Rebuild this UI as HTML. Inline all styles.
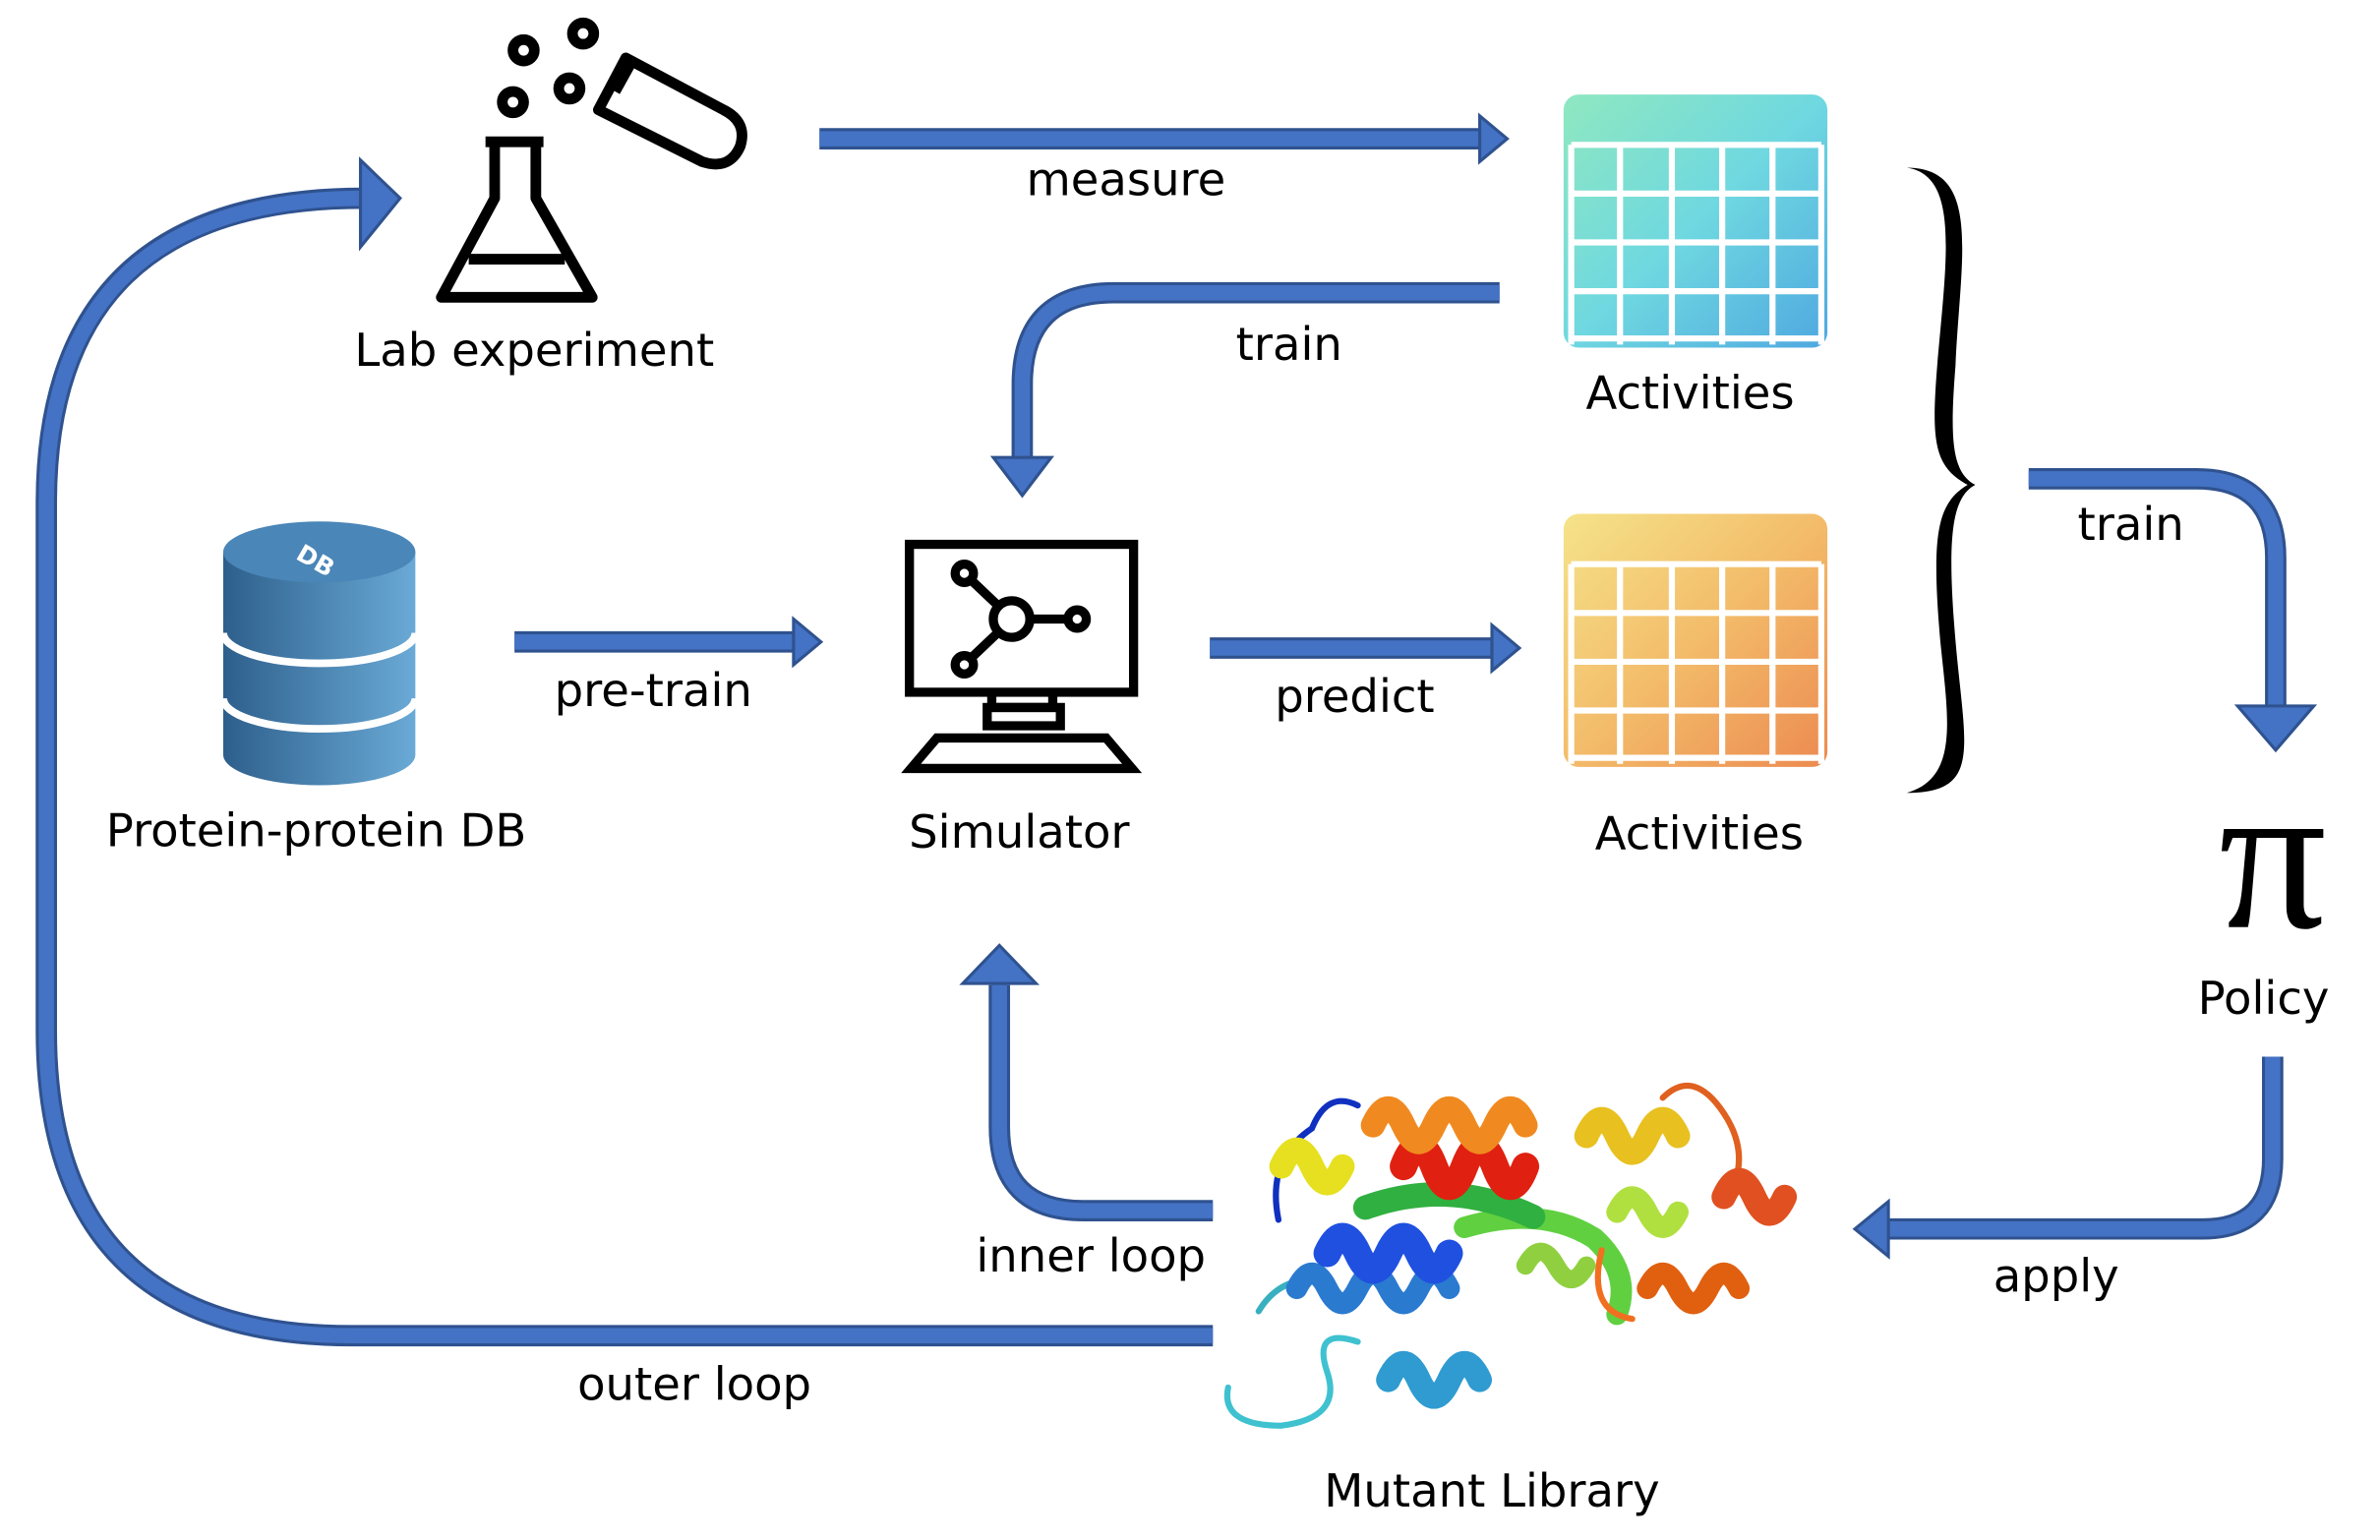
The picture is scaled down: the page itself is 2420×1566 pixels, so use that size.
<!DOCTYPE html>
<html><head><meta charset="utf-8"><style>
html,body{margin:0;padding:0;background:#fff;}
svg{display:block}
text{font-family:"DejaVu Sans","Liberation Sans",sans-serif;fill:#000}
</style></head><body>
<svg width="2420" height="1566" viewBox="0 0 1560 1010" xmlns="http://www.w3.org/2000/svg">
<defs>
<linearGradient id="g1" x1="0" y1="0" x2="1" y2="1"><stop offset="0" stop-color="#8fe8c0"/><stop offset="0.5" stop-color="#6fd8e0"/><stop offset="1" stop-color="#4fa8e0"/></linearGradient>
<linearGradient id="g2" x1="0" y1="0" x2="1" y2="1"><stop offset="0" stop-color="#f5e38a"/><stop offset="0.5" stop-color="#f3bc6a"/><stop offset="1" stop-color="#ec8a50"/></linearGradient>
<linearGradient id="db" x1="0" y1="0" x2="1" y2="0"><stop offset="0" stop-color="#2e5f8c"/><stop offset="1" stop-color="#6aaad6"/></linearGradient>
</defs>
<g fill="none" stroke-linejoin="round">
<g stroke="#2f528f" stroke-width="14">
<path d="M537 91 H972"/>
<path d="M983 192 H730 Q670 192 670 252 V302"/>
<path d="M337 421 H522"/>
<path d="M793 425 H980"/>
<path d="M1330 314 H1440 Q1492 314 1492 366 V466"/>
<path d="M1490 693 V760 Q1490 806 1444 806 H1236"/>
<path d="M795 794 H710 Q655 794 655 739 V646"/>
<path d="M795 876 H230 Q30 876 30 676 V330 Q30 130 238 130"/>
</g>
<g stroke="#4472c4" stroke-width="10">
<path d="M537 91 H972"/>
<path d="M983 192 H730 Q670 192 670 252 V303"/>
<path d="M337 421 H522"/>
<path d="M793 425 H980"/>
<path d="M1330 314 H1440 Q1492 314 1492 366 V467"/>
<path d="M1490 693 V760 Q1490 806 1444 806 H1235"/>
<path d="M795 794 H710 Q655 794 655 739 V645"/>
<path d="M795 876 H230 Q30 876 30 676 V330 Q30 130 239 130"/>
</g>
</g>
<g fill="#4472c4" stroke="#2f528f" stroke-width="2">
<polygon points="970,76 988,91 970,106"/>
<polygon points="651,300 689,300 670,325"/>
<polygon points="520,406 538,421 520,436"/>
<polygon points="978,410 996,425 978,440"/>
<polygon points="1467,463 1517,463 1492,492"/>
<polygon points="1238,788 1216,806 1238,824"/>
<polygon points="631,645 679,645 655,620"/>
<polygon points="236,105 262,130 236,162"/>
</g>
<g fill="none" stroke="#000" stroke-width="7" stroke-linejoin="round">
<path d="M318 93 H356 M324 93 V130 L289 195 H388 L351 130 V93"/>
<path d="M307 170 H370"/>
<circle cx="343" cy="33" r="7"/><circle cx="382" cy="22" r="7"/><circle cx="373" cy="58" r="7"/><circle cx="336" cy="67" r="7"/>
<path d="M410 38 L392 72 L460 106 Q478 112 485 96 Q490 80 474 72 Z"/>
<path d="M403 60 L413 42"/>
</g>
<g>
<rect x="1025" y="62" width="173" height="166" rx="10" fill="url(#g1)"/>
<rect x="1025" y="337" width="173" height="166" rx="10" fill="url(#g2)"/>
<g stroke="#fff" stroke-width="4">
<path d="M1030 95H1194M1030 127H1194M1030 159H1194M1030 191H1194M1030 222H1194"/>
<path d="M1030 95V226M1062 95V226M1096 95V226M1129 95V226M1162 95V226M1194 95V226"/>
<path d="M1030 370H1194M1030 402H1194M1030 434H1194M1030 466H1194M1030 497H1194"/>
<path d="M1030 370V501M1062 370V501M1096 370V501M1129 370V501M1162 370V501M1194 370V501"/>
</g>
</g>
<g>
<path d="M146 362 V495 A63 20 0 0 0 272 495 V362 Z" fill="url(#db)"/>
<ellipse cx="209" cy="362" rx="63" ry="20" fill="#4a86b8"/>
<path d="M146 415 A63 20 0 0 0 272 415 M146 458 A63 20 0 0 0 272 458" fill="none" stroke="#fff" stroke-width="5"/>
<text x="195" y="372" font-size="16" font-weight="bold" style="fill:#fff" transform="rotate(30 205 365)">DB</text>
</g>
<g fill="none" stroke="#000" stroke-width="6">
<rect x="596" y="357" width="147" height="97"/>
<path d="M650 454 V464 H690 V454"/>
<rect x="647" y="464" width="48" height="12"/>
<path d="M614 484 H725 L742 504 H597 Z"/>
<circle cx="663" cy="406" r="12"/><circle cx="632" cy="376" r="6"/><circle cx="632" cy="436" r="6"/><circle cx="706" cy="406" r="6"/>
<path d="M655 398 L636 380 M655 414 L636 432 M675 406 H700"/>
</g>
<path d="M1250 110 C1300 110 1285 170 1282 240 C1278 290 1280 310 1295 318 C1280 326 1276 350 1282 420 C1288 490 1300 520 1250 520 C1285 510 1277 470 1272 420 C1266 350 1270 330 1290 318 C1268 306 1266 290 1270 240 C1276 170 1285 115 1250 110 Z" fill="#000"/>
<!-- protein -->
<g fill="none" stroke-linecap="round" stroke-width="9">
<path d="M805 910 Q800 935 840 935 Q880 930 870 900 Q860 870 890 880" stroke="#3fc1d0" stroke-width="4"/>
<path d="M910 905 q10 -22 20 0 q10 22 20 0 q10 -22 20 0" stroke="#2f9bd0" stroke-width="16"/>
<path d="M825 860 Q840 835 870 840" stroke="#38b0c0" stroke-width="4"/>
<path d="M850 845 q10 -20 20 0 q10 20 20 0 q10 -20 20 0 q10 20 20 0 q10 -20 20 0" stroke="#2a7ad0" stroke-width="14"/>
<path d="M870 822 q10 -22 20 0 q10 22 20 0 q10 -22 20 0 q10 22 20 0" stroke="#1f50e0" stroke-width="18"/>
<path d="M838 800 Q830 760 860 740 Q870 715 890 725" stroke="#1030c0" stroke-width="4"/>
<path d="M840 765 q10 -22 20 0 q10 22 20 0" stroke="#e6e020" stroke-width="16"/>
<path d="M960 805 Q1010 790 1045 812 Q1070 835 1060 862" stroke="#60d040" stroke-width="14"/>
<path d="M895 792 Q950 772 1005 798" stroke="#30b040" stroke-width="16"/>
<path d="M1000 830 q10 -18 20 0 q10 18 20 0" stroke="#90d040" stroke-width="12"/>
<path d="M920 765 q10 -26 20 0 q10 26 20 0 q10 -26 20 0 q10 26 20 0" stroke="#e02010" stroke-width="18"/>
<path d="M900 738 q10 -22 20 0 q10 22 20 0 q10 -22 20 0 q10 22 20 0 q10 -22 20 0" stroke="#f08a20" stroke-width="16"/>
<path d="M1040 745 q10 -22 20 0 q10 22 20 0 q10 -22 20 0" stroke="#e8c020" stroke-width="16"/>
<path d="M1060 795 q10 -20 20 0 q10 20 20 0" stroke="#b0e040" stroke-width="14"/>
<path d="M1090 720 Q1110 700 1130 730 Q1150 760 1130 790" stroke="#e06020" stroke-width="4"/>
<path d="M1130 785 q10 -22 20 0 q10 22 20 0" stroke="#e05020" stroke-width="16"/>
<path d="M1080 845 q10 -20 20 0 q10 20 20 0 q10 -20 20 0" stroke="#e06010" stroke-width="14"/>
<path d="M1050 820 Q1040 860 1070 865" stroke="#f07020" stroke-width="4"/>
</g>
<g font-size="30" text-anchor="middle">
<text x="350" y="240">Lab experiment</text>
<text x="738" y="128">measure</text>
<text x="1108" y="268">Activities</text>
<text x="845" y="236">train</text>
<text x="207" y="555">Protein-protein DB</text>
<text x="428" y="463">pre-train</text>
<text x="668" y="556">Simulator</text>
<text x="888" y="467">predict</text>
<text x="1114" y="557">Activities</text>
<text x="1397" y="354">train</text>
<text x="1484" y="665">Policy</text>
<text x="1348" y="847">apply</text>
<text x="715" y="834">inner loop</text>
<text x="455" y="918">outer loop</text>
<text x="978" y="988">Mutant Library</text>
</g>
<text x="1490" y="608" font-size="140" text-anchor="middle" style="font-family:'Liberation Serif',serif">π</text>
</svg>
</body></html>
